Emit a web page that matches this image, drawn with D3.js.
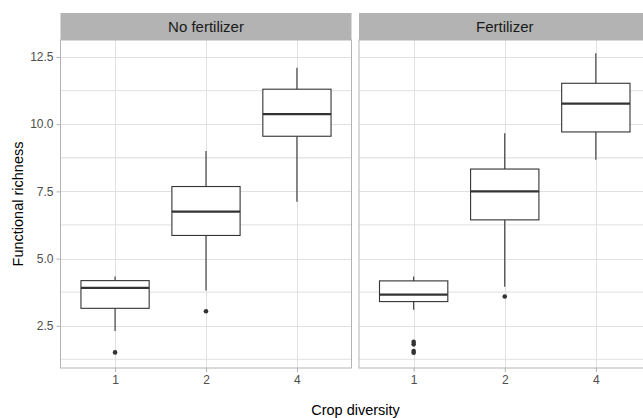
<!DOCTYPE html>
<html>
<head>
<meta charset="utf-8">
<script src="https://cdn.jsdelivr.net/npm/d3@7"></script>
<style>
  html, body { margin: 0; padding: 0; background: #fff; }
  svg { display: block; font-family: "Liberation Sans", Arial, sans-serif; }
</style>
</head>
<body>
<svg id="chart" width="643" height="418"></svg>
<script>
// ---- Data ----
const facets = ["No fertilizer", "Fertilizer"];
const categories = ["1", "2", "4"];
const yTicks = [2.5, 5.0, 7.5, 10.0, 12.5];
const yMinorTicks = [1.25, 3.75, 6.25, 8.75, 11.25];
// per facet, per category
const whiskerLow  = [[2.31, 3.81, 7.11], [3.10, 3.95, 8.68]];
const q1          = [[3.15, 5.86, 9.55], [3.40, 6.44, 9.71]];
const median      = [[3.91, 6.75, 10.37], [3.66, 7.50, 10.76]];
const q3          = [[4.18, 7.68, 11.30], [4.17, 8.33, 11.52]];
const whiskerHigh = [[4.33, 9.00, 12.10], [4.33, 9.66, 12.64]];
const outliers    = [[[1.51], [3.04], []], [[1.90, 1.81, 1.56, 1.50], [3.59], []]];

// ---- Layout ----
const svg = d3.select("#chart");
const panelTop = 40, panelBottom = 368, stripTop = 13;
const panelX = [[60.5, 351.5], [359, 650.5]];

const y = d3.scaleLinear().domain([0.93, 13.13]).range([panelBottom, panelTop]);

const gridCol = "#e0e0e0", borderCol = "#b3b3b3", boxCol = "#333333";

facets.forEach((facet, fi) => {
  const [x0, x1] = panelX[fi];
  const x = d3.scalePoint().domain(categories).range([x0, x1]).padding(0.6);
  const bw = x.step() * 0.75;
  const g = svg.append("g");

  // strip
  g.append("rect").attr("x", x0).attr("y", stripTop).attr("width", x1 - x0)
    .attr("height", panelTop - stripTop).attr("fill", "#b3b3b3");
  g.append("text").attr("x", (x0 + x1) / 2).attr("y", (stripTop + panelTop) / 2)
    .attr("dy", "0.36em").attr("text-anchor", "middle")
    .attr("font-size", 15).attr("fill", "#1a1a1a").text(facet);

  // grid
  g.selectAll(".minor").data(yMinorTicks).join("line")
    .attr("x1", x0).attr("x2", x1)
    .attr("y1", d => y(d)).attr("y2", d => y(d))
    .attr("stroke", "#e6e6e6").attr("stroke-width", 1.3);
  g.selectAll(".major").data(yTicks).join("line")
    .attr("x1", x0).attr("x2", x1)
    .attr("y1", d => Math.round(y(d)) + 0.5).attr("y2", d => Math.round(y(d)) + 0.5)
    .attr("stroke", gridCol).attr("stroke-width", 1);
  g.selectAll(".vgrid").data(categories).join("line")
    .attr("x1", d => Math.round(x(d)) + 0.5).attr("x2", d => Math.round(x(d)) + 0.5)
    .attr("y1", panelTop).attr("y2", panelBottom)
    .attr("stroke", gridCol).attr("stroke-width", 1);

  // boxes
  categories.forEach((c, ci) => {
    const cx = x(c);
    g.append("line").attr("x1", cx).attr("x2", cx)
      .attr("y1", y(q3[fi][ci])).attr("y2", y(whiskerHigh[fi][ci]))
      .attr("stroke", boxCol).attr("stroke-width", 1.1);
    g.append("line").attr("x1", cx).attr("x2", cx)
      .attr("y1", y(q1[fi][ci])).attr("y2", y(whiskerLow[fi][ci]))
      .attr("stroke", boxCol).attr("stroke-width", 1.1);
    g.append("rect").attr("x", cx - bw / 2).attr("width", bw)
      .attr("y", y(q3[fi][ci])).attr("height", y(q1[fi][ci]) - y(q3[fi][ci]))
      .attr("fill", "#fff").attr("stroke", boxCol).attr("stroke-width", 1.1);
    g.append("line").attr("x1", cx - bw / 2).attr("x2", cx + bw / 2)
      .attr("y1", y(median[fi][ci])).attr("y2", y(median[fi][ci]))
      .attr("stroke", boxCol).attr("stroke-width", 2.2);
    g.selectAll(null).data(outliers[fi][ci]).join("circle")
      .attr("cx", cx).attr("cy", d => y(d)).attr("r", 2.3).attr("fill", boxCol);
  });

  // border
  g.append("rect").attr("x", x0).attr("y", panelTop).attr("width", x1 - x0)
    .attr("height", panelBottom - panelTop).attr("fill", "none")
    .attr("stroke", borderCol).attr("stroke-width", 1);

  // x axis
  const xa = g.append("g").attr("transform", `translate(0,${panelBottom})`)
    .call(d3.axisBottom(x).tickSize(4).tickPadding(3));
  xa.select(".domain").remove();
  xa.selectAll(".tick line").attr("stroke", borderCol);
  xa.selectAll(".tick text").attr("fill", "#4d4d4d").attr("font-size", 12)
    .attr("font-family", "Liberation Sans, Arial, sans-serif");

  if (fi === 0) {
    const ya = g.append("g").attr("transform", `translate(${x0},0)`)
      .call(d3.axisLeft(y).tickValues(yTicks).tickFormat(d3.format(".1f")).tickSize(4).tickPadding(3));
    ya.select(".domain").remove();
    ya.selectAll(".tick line").attr("stroke", borderCol);
    ya.selectAll(".tick text").attr("fill", "#4d4d4d").attr("font-size", 12)
      .attr("font-family", "Liberation Sans, Arial, sans-serif");
  }
});

// axis titles
svg.append("text").attr("x", (panelX[0][0] + panelX[1][1]) / 2).attr("y", 415)
  .attr("text-anchor", "middle").attr("font-size", 14.5).attr("fill", "#000")
  .text("Crop diversity");
svg.append("text")
  .attr("transform", `translate(23,${(panelTop + panelBottom) / 2}) rotate(-90)`)
  .attr("text-anchor", "middle").attr("font-size", 14.5).attr("fill", "#000")
  .text("Functional richness");
</script>
</body>
</html>
